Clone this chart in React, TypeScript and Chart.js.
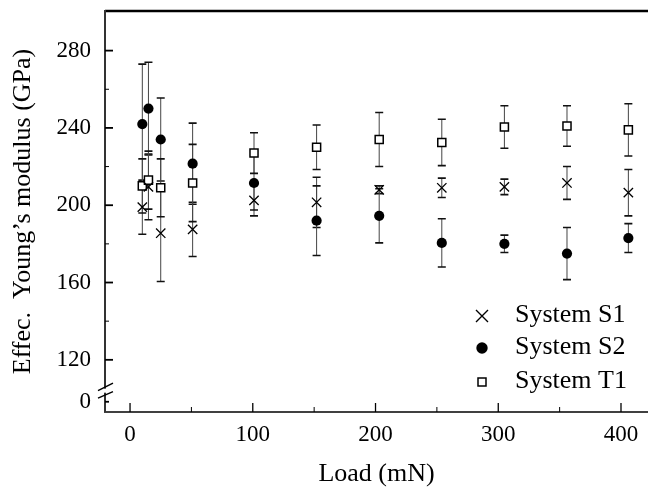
import React, { useEffect, useRef } from 'react';
import { Chart, registerables } from 'chart.js';

Chart.register(...registerables);

// ---- data ----
const loads = [10, 15, 25, 51, 101, 152, 203, 254, 305, 356, 406];

const s1Values = [199, 209.5, 185.5, 187.5, 202.5, 201.5, 208, 209, 209.5, 211.5, 206.5];
const s1Errors = [14, 17, 25, 14, 8, 13, 2, 5, 4, 8.5, 12];

const s2Values = [242, 250, 234, 221.5, 211.5, 192, 194.5, 180.5, 180, 175, 183];
const s2Errors = [31, 24, 21.5, 21, 14, 18, 14, 12.5, 4.5, 13.5, 7.5];

const t1Values = [210, 213, 209, 211.5, 227, 230, 234, 232.5, 240.5, 241, 239];
const t1Errors = [14, 15, 15, 20, 10.5, 11.5, 14, 12, 11, 10.5, 13.5];

const seriesNames = ['System S1', 'System S2', 'System T1'];

const xTickValues = [0, 100, 200, 300, 400];
const xMinorTicks = [50, 150, 250, 350];
const yTickValues = [120, 160, 200, 240, 280];
const yMinorTicks = [140, 180, 220, 260];
// position on the (broken) axis where the "0" label sits
const yZeroPos = 98.3;
const yBreakPos = 103;

const X_MIN = -20.4;
const X_MAX = 422;
const Y_MIN = 93;
const Y_MAX = 300.5;

const FONT = "'Liberation Serif', 'Times New Roman', serif";

const errorSets = [s1Errors, s2Errors, t1Errors];

const errorBarPlugin = {
  id: 'errorBars',
  beforeDatasetsDraw(chart: any) {
    const { ctx } = chart;
    const xs = chart.scales.x;
    const ys = chart.scales.y;
    ctx.save();
    chart.data.datasets.forEach((ds: any, i: number) => {
      const errs = errorSets[i];
      ds.data.forEach((p: any, j: number) => {
        const e = errs[j];
        const px = xs.getPixelForValue(p.x);
        const top = ys.getPixelForValue(p.y + e);
        const bot = ys.getPixelForValue(p.y - e);
        ctx.strokeStyle = '#444';
        ctx.lineWidth = 1;
        ctx.beginPath();
        ctx.moveTo(px, top);
        ctx.lineTo(px, bot);
        ctx.stroke();
        ctx.strokeStyle = '#111';
        ctx.lineWidth = 1.6;
        ctx.beginPath();
        ctx.moveTo(px - 4, top);
        ctx.lineTo(px + 4, top);
        ctx.moveTo(px - 4, bot);
        ctx.lineTo(px + 4, bot);
        ctx.stroke();
      });
    });
    ctx.restore();
  },
};

const axesPlugin = {
  id: 'axesFrame',
  afterDraw(chart: any) {
    const { ctx, chartArea } = chart;
    const { left, right, top, bottom } = chartArea;
    const xs = chart.scales.x;
    const ys = chart.scales.y;
    ctx.save();
    ctx.strokeStyle = '#000';
    // top line
    ctx.lineWidth = 2.5;
    ctx.beginPath();
    ctx.moveTo(left, top);
    ctx.lineTo(right, top);
    ctx.stroke();
    // bottom line
    ctx.lineWidth = 1.3;
    ctx.beginPath();
    ctx.moveTo(left - 1, bottom);
    ctx.lineTo(right, bottom);
    ctx.stroke();
    // left line
    ctx.strokeStyle = '#333';
    ctx.lineWidth = 2;
    ctx.beginPath();
    ctx.moveTo(left, top - 1);
    ctx.lineTo(left, bottom);
    ctx.stroke();
    // y ticks
    ctx.strokeStyle = '#000';
    ctx.lineWidth = 1.8;
    yTickValues.forEach((v) => {
      const py = ys.getPixelForValue(v);
      ctx.beginPath();
      ctx.moveTo(left, py);
      ctx.lineTo(left + 8, py);
      ctx.stroke();
    });
    ctx.lineWidth = 1;
    yMinorTicks.forEach((v) => {
      const py = ys.getPixelForValue(v);
      ctx.beginPath();
      ctx.moveTo(left, py);
      ctx.lineTo(left + 4, py);
      ctx.stroke();
    });
    {
      const py = ys.getPixelForValue(yZeroPos);
      ctx.lineWidth = 1.8;
      ctx.beginPath();
      ctx.moveTo(left, py);
      ctx.lineTo(left + 4, py);
      ctx.stroke();
    }
    // x ticks
    ctx.lineWidth = 1.3;
    xTickValues.forEach((v) => {
      const px = xs.getPixelForValue(v);
      ctx.beginPath();
      ctx.moveTo(px, bottom);
      ctx.lineTo(px, bottom - 9);
      ctx.stroke();
    });
    ctx.lineWidth = 1;
    xMinorTicks.forEach((v) => {
      const px = xs.getPixelForValue(v);
      ctx.beginPath();
      ctx.moveTo(px, bottom);
      ctx.lineTo(px, bottom - 5);
      ctx.stroke();
    });
    // axis break
    const by = ys.getPixelForValue(yBreakPos);
    ctx.fillStyle = '#fff';
    ctx.fillRect(left - 2, by - 4, 4, 4);
    ctx.strokeStyle = '#000';
    ctx.lineWidth = 1.4;
    ctx.beginPath();
    ctx.moveTo(left - 7, by - 2);
    ctx.lineTo(left + 8, by - 9.5);
    ctx.moveTo(left - 7, by + 5.5);
    ctx.lineTo(left + 8, by - 1);
    ctx.stroke();
    ctx.restore();
  },
};

const legendPlugin = {
  id: 'innerLegend',
  afterDraw(chart: any) {
    const { ctx, chartArea } = chart;
    const mx = chartArea.right - 166;
    const tx = chartArea.right - 133;
    const rows = [chartArea.bottom - 96, chartArea.bottom - 64, chartArea.bottom - 30];
    ctx.save();
    ctx.font = `26px ${FONT}`;
    ctx.fillStyle = '#000';
    ctx.textBaseline = 'middle';
    ctx.textAlign = 'left';
    rows.forEach((ry, i) => {
      ctx.strokeStyle = '#000';
      if (i === 0) {
        ctx.lineWidth = 1.4;
        ctx.beginPath();
        ctx.moveTo(mx - 6, ry - 6);
        ctx.lineTo(mx + 6, ry + 6);
        ctx.moveTo(mx + 6, ry - 6);
        ctx.lineTo(mx - 6, ry + 6);
        ctx.stroke();
      } else if (i === 1) {
        ctx.beginPath();
        ctx.arc(mx, ry, 5.7, 0, Math.PI * 2);
        ctx.fill();
      } else {
        ctx.lineWidth = 1.5;
        ctx.fillStyle = '#fff';
        ctx.fillRect(mx - 4, ry - 4, 8, 8);
        ctx.strokeRect(mx - 4, ry - 4, 8, 8);
        ctx.fillStyle = '#000';
      }
      ctx.fillText(seriesNames[i], tx, ry - 1);
    });
    ctx.restore();
  },
};

function toPoints(values: number[]) {
  return loads.map((x, i) => ({ x, y: values[i] }));
}

export default function App() {
  const ref = useRef<HTMLCanvasElement>(null);
  useEffect(() => {
    const canvas = ref.current;
    if (!canvas) return;
    const chart = new Chart(canvas, {
      type: 'scatter',
      data: {
        datasets: [
          {
            label: seriesNames[0],
            data: toPoints(s1Values),
            pointStyle: 'crossRot',
            pointRadius: 6.6,
            borderColor: '#000',
            backgroundColor: '#000',
            borderWidth: 1.3,
          },
          {
            label: seriesNames[1],
            data: toPoints(s2Values),
            pointStyle: 'circle',
            pointRadius: 5.1,
            borderColor: '#000',
            backgroundColor: '#000',
            borderWidth: 0,
          },
          {
            label: seriesNames[2],
            data: toPoints(t1Values),
            pointStyle: 'rect',
            pointRadius: 5.7,
            borderColor: '#000',
            backgroundColor: '#fff',
            borderWidth: 1.5,
          },
        ],
      } as any,
      options: {
        responsive: false,
        animation: false,
        devicePixelRatio: 1,
        layout: { autoPadding: false, padding: { top: 11, right: 1, left: 0, bottom: 0 } },
        plugins: {
          legend: { display: false },
          tooltip: { enabled: false },
        },
        scales: {
          x: {
            type: 'linear',
            min: X_MIN,
            max: X_MAX,
            grid: { display: false, drawTicks: false },
            border: { display: false },
            afterBuildTicks: (s: any) => {
              s.ticks = xTickValues.map((v) => ({ value: v }));
            },
            afterFit: (s: any) => {
              s.height = 78;
              s.paddingLeft = 0;
              s.paddingRight = 0;
              s.paddingTop = 0;
              s.paddingBottom = 0;
            },
            ticks: {
              color: '#000',
              padding: 9,
              maxRotation: 0,
              font: { family: FONT, size: 23 },
            },
            title: {
              display: true,
              text: 'Load (mN)',
              color: '#000',
              padding: { top: 0, bottom: 0 },
              font: { family: FONT, size: 26 },
            },
          },
          y: {
            type: 'linear',
            min: Y_MIN,
            max: Y_MAX,
            grid: { display: false, drawTicks: false },
            border: { display: false },
            afterBuildTicks: (s: any) => {
              s.ticks = [yZeroPos, ...yTickValues].map((v) => ({ value: v }));
            },
            afterFit: (s: any) => {
              s.width = 105;
              s.paddingLeft = 0;
              s.paddingRight = 0;
              s.paddingTop = 0;
              s.paddingBottom = 0;
            },
            ticks: {
              color: '#000',
              padding: 14,
              font: { family: FONT, size: 23 },
              callback: (v: any) => (v === yZeroPos ? '0' : String(v)),
            },
            title: {
              display: true,
              text: 'Effec.  Young\u2019s modulus (GPa)',
              color: '#000',
              padding: { top: 8, bottom: 0 },
              font: { family: FONT, size: 26 },
            },
          },
        },
      },
      plugins: [errorBarPlugin, axesPlugin, legendPlugin],
    });
    return () => chart.destroy();
  }, []);
  return (
    <div style={{ position: 'fixed', left: 0, top: 0, width: 649, height: 490, background: '#fff' }}>
      <canvas ref={ref} width={649} height={490} style={{ display: 'block', width: 649, height: 490 }} />
    </div>
  );
}
